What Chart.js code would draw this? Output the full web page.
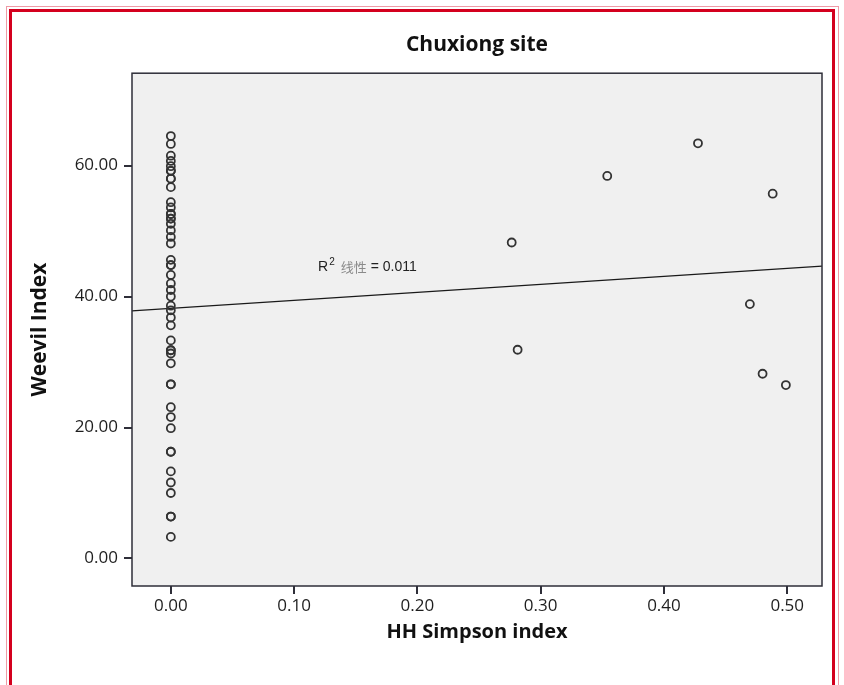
<!DOCTYPE html>
<html>
<head>
<meta charset="utf-8">
<script src="https://cdn.jsdelivr.net/npm/chart.js@4.4.1/dist/chart.umd.min.js"></script>
<style>
  body { margin: 0; background: #fff; }
  .frame-outer { position: absolute; left: 6px; top: 6px; width: 831px; height: 800px; border: 1px solid #ef9aa6; }
  .frame-inner { position: absolute; left: 9px; top: 9px; width: 820px; height: 800px; border: 3px solid #d4001e; }
  #chart { position: absolute; left: 0; top: 0; }
</style>
</head>
<body>
<div class="frame-outer"></div>
<div class="frame-inner"></div>
<canvas id="chart" width="844" height="685"></canvas>
<script>
// Weevil index against HH Simpson index, Chuxiong site
const zeroGroupY = [64.5, 63.3, 61.5, 60.7, 59.9, 59.2, 59.2, 58.0, 58.0, 56.7,
  54.4, 53.6, 52.6, 52.6, 51.9, 51.9, 51.1, 50.1, 49.1, 48.1,
  45.6, 44.8, 44.8, 43.3, 42.0, 41.0, 40.0, 38.6, 37.9, 36.8,
  35.6, 33.3, 31.8, 31.8, 31.3, 29.8, 26.6, 26.6, 23.1, 21.6,
  19.9, 16.3, 16.3, 13.3, 11.6, 10.0, 6.4, 6.4, 3.3];
const otherX = [0.2765, 0.2813, 0.354, 0.4276, 0.4882, 0.4697, 0.48, 0.4989];
const otherY = [48.25, 31.87, 58.41, 63.40, 55.70, 38.84, 28.21, 26.48];

// fit line end points
const fitX = [-0.0315, 0.5282];
const fitY = [37.82, 44.64];

const xTicks = [0, 0.1, 0.2, 0.3, 0.4, 0.5];
const yTicks = [0, 20, 40, 60];

const points = zeroGroupY.map(y => ({ x: 0, y: y }))
  .concat(otherX.map((x, i) => ({ x: x, y: otherY[i] })));
const fitLine = fitX.map((x, i) => ({ x: x, y: fitY[i] }));

const plotBox = {
  id: 'plotBox',
  beforeDraw(chart) {
    const a = chart.chartArea;
    const ctx = chart.ctx;
    ctx.save();
    ctx.fillStyle = '#f0f0f0';
    ctx.fillRect(a.left, a.top, a.right - a.left, a.bottom - a.top);
    ctx.restore();
  },
  afterDraw(chart) {
    const a = chart.chartArea;
    const ctx = chart.ctx;
    ctx.save();
    ctx.strokeStyle = '#2e2e38';
    ctx.lineWidth = 1.5;
    ctx.strokeRect(a.left, a.top, a.right - a.left, a.bottom - a.top);

    // R² label
    const px = chart.scales.x.getPixelForValue(0.1194);
    const py = chart.scales.y.getPixelForValue(44.6);
    ctx.textBaseline = 'middle';
    ctx.fillStyle = '#222';
    ctx.font = '14px "Liberation Sans", Arial, sans-serif';
    ctx.fillText('R', px, py + 1);
    let w = ctx.measureText('R').width;
    ctx.font = '10px "Liberation Sans", Arial, sans-serif';
    ctx.fillText('2', px + w + 1, py - 4);
    w += ctx.measureText('2').width + 7;
    ctx.fillStyle = '#8a8a8a';
    ctx.font = '13px "Noto Sans CJK SC", sans-serif';
    ctx.fillText('线性', px + w, py + 1);
    w += ctx.measureText('线性').width + 4;
    ctx.fillStyle = '#222';
    ctx.font = '14px "Liberation Sans", Arial, sans-serif';
    ctx.fillText('= 0.011', px + w, py + 1);
    ctx.restore();
  }
};

const ctx = document.getElementById('chart').getContext('2d');

new Chart(ctx, {
  type: 'scatter',
  data: {
    datasets: [
      {
        label: 'Weevil Index',
        data: points,
        pointStyle: 'circle',
        pointRadius: 4,
        pointBorderWidth: 1.8,
        borderColor: '#333',
        backgroundColor: 'rgba(0,0,0,0)',
        order: 1
      },
      {
        type: 'line',
        label: 'fit',
        data: fitLine,
        borderColor: '#1a1a1a',
        borderWidth: 1.3,
        pointRadius: 0,
        fill: false,
        order: 2
      }
    ]
  },
  options: {
    responsive: false,
    animation: false,
    devicePixelRatio: 1,
    layout: { padding: { left: 0, right: 22, top: 0, bottom: 0 } },
    plugins: {
      legend: { display: false },
      tooltip: { enabled: false },
      title: {
        display: true,
        fullSize: false,
        text: 'Chuxiong site',
        color: '#111',
        font: { family: '"Open Sans", sans-serif', size: 21, weight: 'bold', lineHeight: 1.2 },
        padding: { top: 32, bottom: 16 }
      }
    },
    scales: {
      x: {
        type: 'linear',
        min: -0.0315,
        max: 0.5282,
        afterBuildTicks: s => { s.ticks = xTicks.map(v => ({ value: v })); },
        afterFit: s => { s.height = 99; },
        border: { display: false },
        grid: { drawOnChartArea: false, drawTicks: true, tickLength: 8, lineWidth: 2, color: '#2e2e38' },
        ticks: {
          padding: 2,
          color: '#1e1e1e',
          font: { family: '"Open Sans", sans-serif', size: 17 },
          callback: v => v.toFixed(2)
        },
        title: {
          display: true,
          text: 'HH Simpson index',
          color: '#111',
          font: { family: '"Open Sans", sans-serif', size: 20, weight: 'bold', lineHeight: 1.2 },
          padding: { top: 0, bottom: 41 }
        }
      },
      y: {
        type: 'linear',
        min: -4.2,
        max: 74.1,
        afterBuildTicks: s => { s.ticks = yTicks.map(v => ({ value: v })); },
        afterFit: s => { s.width = 132; },
        border: { display: false },
        grid: { drawOnChartArea: false, drawTicks: true, tickLength: 8, lineWidth: 2, color: '#2e2e38' },
        ticks: {
          padding: 6,
          color: '#1e1e1e',
          font: { family: '"Open Sans", sans-serif', size: 17 },
          callback: v => v.toFixed(2)
        },
        title: {
          display: true,
          text: 'Weevil Index',
          color: '#111',
          font: { family: '"Open Sans", sans-serif', size: 21, weight: 'bold', lineHeight: 1.2 },
          padding: { top: 27, bottom: 0 }
        }
      }
    }
  },
  plugins: [plotBox]
});
</script>
</body>
</html>
